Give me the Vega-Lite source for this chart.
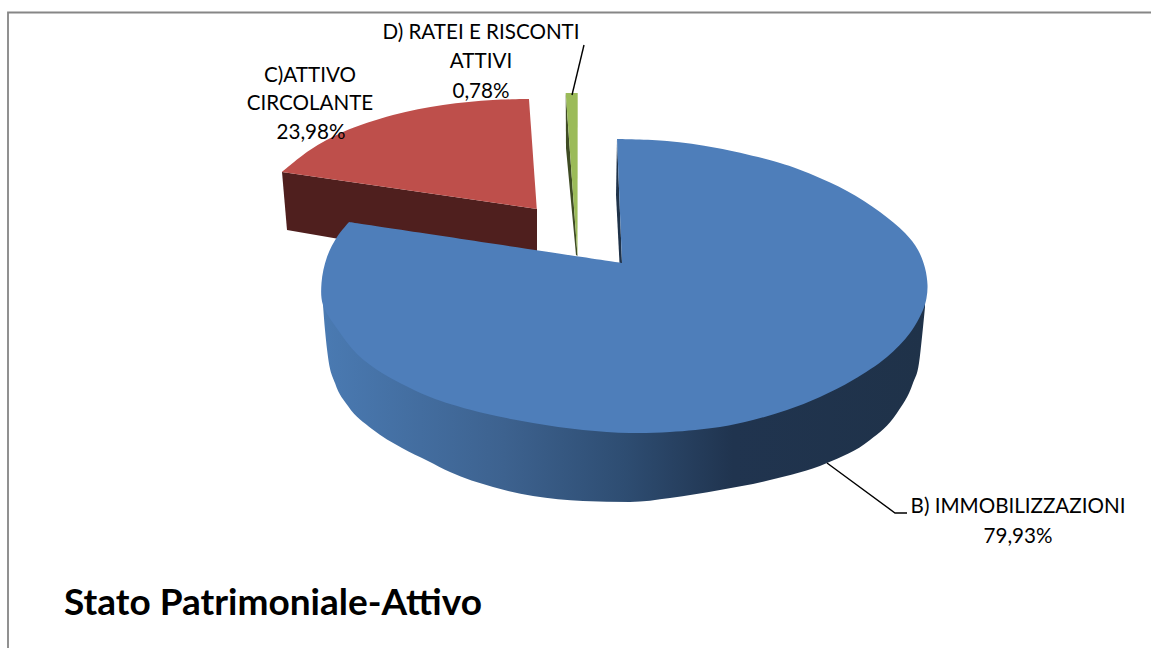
{
  "$schema": "https://vega.github.io/schema/vega-lite/v6.json",
  "autosize": {"type": "none"},
  "width": 1151,
  "height": 648,
  "padding": 0,
  "background": "#ffffff",
  "view": {"stroke": null},
  "datasets": {
    "faces": [
      {"piece": "red side", "seq": 1, "x": 282, "y": 172},
      {"piece": "red side", "seq": 2, "x": 287, "y": 230},
      {"piece": "red side", "seq": 3, "x": 345, "y": 240},
      {"piece": "red side", "seq": 4, "x": 537, "y": 252},
      {"piece": "red side", "seq": 5, "x": 537, "y": 209},
      {"piece": "green side", "seq": 1, "x": 565.7, "y": 93},
      {"piece": "green side", "seq": 2, "x": 566, "y": 148},
      {"piece": "green side", "seq": 3, "x": 576, "y": 255},
      {"piece": "green side", "seq": 4, "x": 577.5, "y": 256},
      {"piece": "green top", "seq": 1, "x": 565.7, "y": 93},
      {"piece": "green top", "seq": 2, "x": 577.7, "y": 93},
      {"piece": "green top", "seq": 3, "x": 577.5, "y": 256},
      {"piece": "blue inner", "seq": 1, "x": 617, "y": 139},
      {"piece": "blue inner", "seq": 2, "x": 616, "y": 195},
      {"piece": "blue inner", "seq": 3, "x": 619.5, "y": 263},
      {"piece": "blue inner", "seq": 4, "x": 622, "y": 263}
    ],
    "redTop": [
      {"seq": 1, "x": 282, "y": 172},
      {"seq": 2, "x": 282, "y": 172},
      {"seq": 3, "x": 310, "y": 150},
      {"seq": 4, "x": 343, "y": 132},
      {"seq": 5, "x": 393, "y": 115},
      {"seq": 6, "x": 443, "y": 105},
      {"seq": 7, "x": 493, "y": 100},
      {"seq": 8, "x": 529, "y": 99},
      {"seq": 9, "x": 529, "y": 99},
      {"seq": 10, "x": 537, "y": 209},
      {"seq": 11, "x": 537, "y": 209}
    ],
    "band": [
      {"x": 323, "top": 300, "bottom": 305},
      {"x": 325, "top": 302, "bottom": 330},
      {"x": 328, "top": 308, "bottom": 357},
      {"x": 335, "top": 320, "bottom": 383},
      {"x": 348, "top": 337, "bottom": 406},
      {"x": 372, "top": 360, "bottom": 429},
      {"x": 402, "top": 378, "bottom": 448},
      {"x": 428, "top": 390, "bottom": 461},
      {"x": 450, "top": 397, "bottom": 472},
      {"x": 493, "top": 409, "bottom": 487},
      {"x": 533, "top": 419, "bottom": 496},
      {"x": 583, "top": 424, "bottom": 501},
      {"x": 630, "top": 427, "bottom": 502},
      {"x": 670, "top": 426, "bottom": 498},
      {"x": 720, "top": 421, "bottom": 490},
      {"x": 770, "top": 409, "bottom": 480},
      {"x": 827, "top": 388, "bottom": 463},
      {"x": 870, "top": 363, "bottom": 440},
      {"x": 897, "top": 341, "bottom": 413},
      {"x": 913, "top": 323, "bottom": 383},
      {"x": 919, "top": 314, "bottom": 363},
      {"x": 922, "top": 308, "bottom": 337},
      {"x": 925, "top": 300, "bottom": 307}
    ],
    "blueTop": [
      {"seq": 1, "x": 617, "y": 139},
      {"seq": 2, "x": 617, "y": 139},
      {"seq": 3, "x": 667, "y": 141},
      {"seq": 4, "x": 717, "y": 148},
      {"seq": 5, "x": 780, "y": 163},
      {"seq": 6, "x": 813, "y": 175},
      {"seq": 7, "x": 847, "y": 191},
      {"seq": 8, "x": 880, "y": 212},
      {"seq": 9, "x": 905, "y": 233},
      {"seq": 10, "x": 918, "y": 250},
      {"seq": 11, "x": 925, "y": 268},
      {"seq": 12, "x": 927.5, "y": 285},
      {"seq": 13, "x": 926.5, "y": 298},
      {"seq": 14, "x": 923, "y": 310},
      {"seq": 15, "x": 910, "y": 333},
      {"seq": 16, "x": 887, "y": 357},
      {"seq": 17, "x": 853, "y": 380},
      {"seq": 18, "x": 820, "y": 397},
      {"seq": 19, "x": 787, "y": 410},
      {"seq": 20, "x": 753, "y": 420},
      {"seq": 21, "x": 720, "y": 427},
      {"seq": 22, "x": 670, "y": 432},
      {"seq": 23, "x": 630, "y": 433},
      {"seq": 24, "x": 583, "y": 430},
      {"seq": 25, "x": 533, "y": 423},
      {"seq": 26, "x": 483, "y": 413},
      {"seq": 27, "x": 435, "y": 399},
      {"seq": 28, "x": 408, "y": 387},
      {"seq": 29, "x": 382, "y": 373},
      {"seq": 30, "x": 358, "y": 355},
      {"seq": 31, "x": 338, "y": 330},
      {"seq": 32, "x": 323, "y": 305},
      {"seq": 33, "x": 321.5, "y": 283},
      {"seq": 34, "x": 327, "y": 257},
      {"seq": 35, "x": 337, "y": 237},
      {"seq": 36, "x": 349, "y": 222},
      {"seq": 37, "x": 349, "y": 222},
      {"seq": 38, "x": 622, "y": 263},
      {"seq": 39, "x": 622, "y": 263}
    ],
    "leaders": [
      {"leader": "D", "seq": 1, "x": 584, "y": 45},
      {"leader": "D", "seq": 2, "x": 572, "y": 95},
      {"leader": "B", "seq": 1, "x": 827, "y": 463},
      {"leader": "B", "seq": 2, "x": 895, "y": 513},
      {"leader": "B", "seq": 3, "x": 907, "y": 513}
    ],
    "labels": [
      {"text": "D) RATEI E RISCONTI", "x": 481, "y": 39},
      {"text": "ATTIVI", "x": 481, "y": 68},
      {"text": "0,78%", "x": 481, "y": 98},
      {"text": "C)ATTIVO", "x": 310, "y": 82},
      {"text": "CIRCOLANTE", "x": 310, "y": 110},
      {"text": "23,98%", "x": 311, "y": 139},
      {"text": "B) IMMOBILIZZAZIONI", "x": 1018, "y": 513},
      {"text": "79,93%", "x": 1018, "y": 543}
    ],
    "frame": [
      {"seq": 1, "x": 8, "y": 648},
      {"seq": 2, "x": 8, "y": 12.5},
      {"seq": 3, "x": 1151, "y": 12.5}
    ]
  },
  "encoding": {
    "x": {"field": "x", "type": "quantitative", "scale": {"domain": [0, 1151]}, "axis": null},
    "y": {"field": "y", "type": "quantitative", "scale": {"domain": [648, 0]}, "axis": null}
  },
  "layer": [
    {
      "data": {"name": "frame"},
      "mark": {"type": "line", "color": "#868686", "strokeWidth": 1.8},
      "encoding": {"order": {"field": "seq"}}
    },
    {
      "data": {"name": "faces"},
      "mark": {"type": "line", "filled": true, "strokeWidth": 0},
      "encoding": {
        "order": {"field": "seq"},
        "color": {
          "field": "piece",
          "type": "nominal",
          "legend": null,
          "sort": null,
          "scale": {
            "domain": ["red side", "green side", "green top", "blue inner"],
            "range": ["#4f1f1e", "#3f4c24", "#9bbb59", "#1f3249"]
          }
        }
      }
    },
    {
      "data": {"name": "redTop"},
      "mark": {"type": "line", "filled": true, "color": "#be4f4b", "strokeWidth": 0, "interpolate": "catmull-rom"},
      "encoding": {"order": {"field": "seq"}}
    },
    {
      "data": {"name": "band"},
      "mark": {
        "type": "area",
        "interpolate": "monotone",
        "color": {
          "gradient": "linear",
          "x1": 0, "x2": 1, "y1": 0, "y2": 0,
          "stops": [
            {"offset": 0, "color": "#4a7ab2"},
            {"offset": 0.3, "color": "#3d628f"},
            {"offset": 0.5, "color": "#2e4d72"},
            {"offset": 0.68, "color": "#20344f"},
            {"offset": 1, "color": "#1f3249"}
          ]
        }
      },
      "encoding": {
        "y": {"field": "top", "type": "quantitative", "scale": {"domain": [648, 0]}, "axis": null},
        "y2": {"field": "bottom"}
      }
    },
    {
      "data": {"name": "blueTop"},
      "mark": {"type": "line", "filled": true, "color": "#4e7eba", "strokeWidth": 0, "interpolate": "catmull-rom"},
      "encoding": {"order": {"field": "seq"}}
    },
    {
      "data": {"name": "leaders"},
      "mark": {"type": "line", "color": "#000000", "strokeWidth": 1.4},
      "encoding": {"detail": {"field": "leader"}, "order": {"field": "seq"}}
    },
    {
      "data": {"name": "labels"},
      "mark": {"type": "text", "font": "Lato", "fontSize": 20.6, "align": "center", "baseline": "alphabetic", "color": "#000000"},
      "encoding": {"text": {"field": "text"}}
    },
    {
      "data": {"values": [{"text": "Stato Patrimoniale-Attivo", "x": 64, "y": 615}]},
      "mark": {"type": "text", "font": "Lato", "fontSize": 37, "fontWeight": "bold", "align": "left", "baseline": "alphabetic", "color": "#000000"},
      "encoding": {"text": {"field": "text"}}
    }
  ]
}
